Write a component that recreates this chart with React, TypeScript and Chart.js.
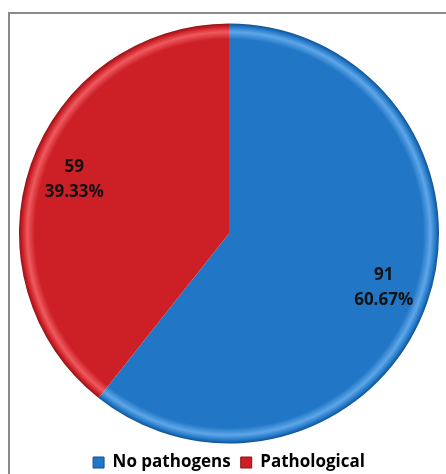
import React, { useEffect, useRef } from "react";
import { Chart, registerables } from "chart.js";

Chart.register(...registerables);

const categories = ["No pathogens", "Pathological"];
const counts = [91, 59];
const percents = ["60.67%", "39.33%"];
const baseColors = ["#2177C6", "#CD1F26"];
const lightColors = ["#5FA6E8", "#EE5A5F"];
const darkColors = ["#12508F", "#8E1216"];

const labelPlugin = {
  id: "sliceLabels",
  afterDatasetsDraw(chart: any) {
    const { ctx } = chart;
    const meta = chart.getDatasetMeta(0);
    ctx.save();
    ctx.font = "bold 17px 'Open Sans'";
    ctx.fillStyle = "#111111";
    ctx.textAlign = "center";
    ctx.textBaseline = "middle";
    meta.data.forEach((arc: any, i: number) => {
      const p = arc.getProps(["x", "y", "startAngle", "endAngle", "outerRadius"], true);
      const mid = (p.startAngle + p.endAngle) / 2;
      const r = p.outerRadius * 0.78;
      const x = p.x + Math.cos(mid) * r;
      const y = p.y + Math.sin(mid) * r;
      ctx.fillText(String(counts[i]), x, y - 12);
      ctx.fillText(percents[i], x, y + 13);
    });
    ctx.restore();
  },
};

export default function App() {
  const ref = useRef<HTMLCanvasElement | null>(null);
  useEffect(() => {
    if (!ref.current) return;
    const grad = (i: number) => (c: any) => {
      const chart = c.chart;
      const ca = chart.chartArea;
      if (!ca) return baseColors[i];
      const cx = (ca.left + ca.right) / 2;
      const cy = (ca.top + ca.bottom) / 2;
      const r = Math.min(ca.right - ca.left, ca.bottom - ca.top) / 2;
      const g = chart.ctx.createRadialGradient(cx, cy, 0, cx, cy, r);
      g.addColorStop(0, baseColors[i]);
      g.addColorStop(0.925, baseColors[i]);
      g.addColorStop(0.96, lightColors[i]);
      g.addColorStop(0.985, baseColors[i]);
      g.addColorStop(1, darkColors[i]);
      return g;
    };
    const chart = new Chart(ref.current, {
      type: "pie",
      data: {
        labels: categories,
        datasets: [
          {
            data: counts,
            backgroundColor: (c: any) => grad(c.dataIndex)(c),
            borderWidth: 0,
          },
        ],
      },
      options: {
        responsive: false,
        animation: false,
        layout: { padding: { left: 9, right: 7, top: 9, bottom: 0 } },
        plugins: {
          tooltip: { enabled: false },
          legend: {
            position: "bottom",
            labels: {
              font: { family: "'Open Sans'", size: 17, weight: "bold" },
              color: "#111111",
              boxWidth: 11,
              boxHeight: 11,
              padding: 10,
              generateLabels: () =>
                categories.map((t, i) => ({
                  text: t,
                  fillStyle: baseColors[i],
                  strokeStyle: darkColors[i],
                  lineWidth: 1,
                  hidden: false,
                  index: i,
                  datasetIndex: 0,
                })),
            },
          },
        },
      },
      plugins: [labelPlugin],
    });
    return () => chart.destroy();
  }, []);
  return (
    <div
      style={{
        position: "absolute",
        left: 8,
        top: 12,
        width: 438,
        height: 462,
        overflow: "hidden",
        borderTop: "2px solid #8a8a8a",
        borderLeft: "2px solid #8a8a8a",
        background: "#fff",
        boxSizing: "border-box",
      }}
    >
      <canvas
        ref={ref}
        width={436}
        height={467}
        style={{ display: "block", width: 436, height: 467 }}
      />
    </div>
  );
}
